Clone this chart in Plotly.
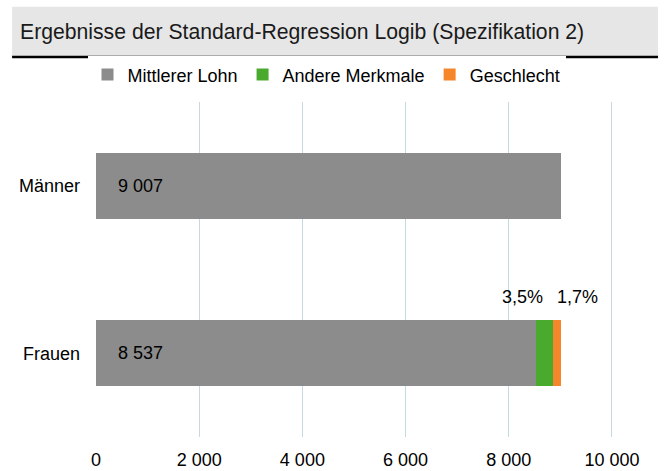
import plotly.graph_objects as go

categories = ["Frauen", "Männer"]
mittlerer_lohn = [8537, 9007]
andere_merkmale = [315, 0]
geschlecht = [155, 0]
pct_labels = ["3,5%", "1,7%"]
tick_vals = [0, 2000, 4000, 6000, 8000, 10000]
tick_text = ["0", "2 000", "4 000", "6 000", "8 000", "10 000"]

font = "Liberation Sans, Arial, sans-serif"

fig = go.Figure()
fig.add_trace(go.Bar(y=categories, x=mittlerer_lohn, orientation="h", name="Mittlerer Lohn",
                     marker=dict(color="#8c8c8c", line=dict(width=0))))
fig.add_trace(go.Bar(y=categories, x=andere_merkmale, orientation="h", name="Andere Merkmale",
                     marker=dict(color="#4aaa2e", line=dict(width=0))))
fig.add_trace(go.Bar(y=categories, x=geschlecht, orientation="h", name="Geschlecht",
                     marker=dict(color="#f5862a", line=dict(width=0))))

# value labels inside the grey bars
for cat, v in zip(categories, mittlerer_lohn):
    fig.add_annotation(x=0, y=cat, text=f"{v:,}".replace(",", " "), showarrow=False,
                       xanchor="left", xshift=20, font=dict(size=18, color="#000000"))

# percentage labels above the Frauen bar
split = mittlerer_lohn[0] + andere_merkmale[0]
fig.add_annotation(x=split, y="Frauen", text=pct_labels[0], showarrow=False,
                   xanchor="right", yshift=56, xshift=-8, font=dict(size=18, color="#000000"))
fig.add_annotation(x=split, y="Frauen", text=pct_labels[1], showarrow=False,
                   xanchor="left", yshift=56, xshift=2, font=dict(size=18, color="#000000"))

# title band and rule
fig.add_shape(type="rect", xref="paper", yref="paper", x0=-0.162, x1=1.085, y0=1.137, y1=1.284,
              fillcolor="#e6e6e6", line=dict(width=0), layer="below")
fig.add_shape(type="line", xref="paper", yref="paper", x0=-0.162, x1=1.085, y0=1.134, y1=1.134,
              line=dict(color="#000000", width=2.5))
fig.add_annotation(xref="paper", yref="paper", x=-0.150, y=1.210,
                   text="Ergebnisse der Standard-Regression Logib (Spezifikation 2)",
                   showarrow=False, xanchor="left", yanchor="middle",
                   font=dict(size=21.2, color="#1a1a1a"))

fig.update_layout(
    barmode="stack",
    bargap=0.606,
    width=664, height=471,
    margin=dict(l=96, r=50, t=102, b=34, autoexpand=False),
    paper_bgcolor="white", plot_bgcolor="white",
    font=dict(family=font, size=18, color="#000000"),
    legend=dict(orientation="h", x=0.445, xanchor="center", y=1.081, yanchor="middle",
                font=dict(size=18), traceorder="normal", itemwidth=30),
    showlegend=True,
)
fig.update_xaxes(range=[0, 10040], tickvals=tick_vals, ticktext=tick_text, showgrid=True,
                 gridcolor="#c5d9e1", gridwidth=1, zeroline=False, showline=False,
                 ticklabelstandoff=10, automargin=False, fixedrange=True)
fig.update_yaxes(categoryorder="array", categoryarray=categories, showgrid=False,
                 showline=False, ticklabelstandoff=15, automargin=False, fixedrange=True)

fig.write_html("out.html", config={"displayModeBar": False},
               post_script="document.body.style.margin='0';")
